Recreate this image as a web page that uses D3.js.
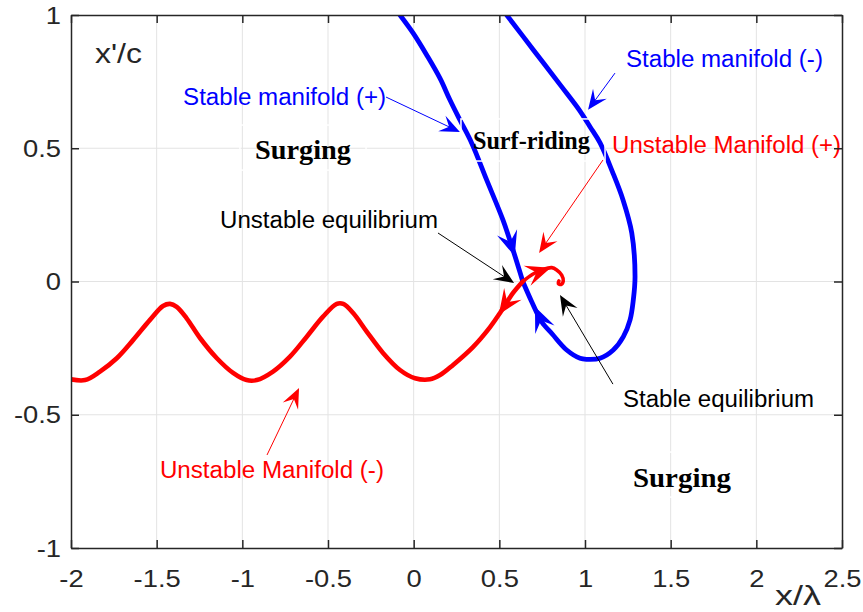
<!DOCTYPE html>
<html>
<head>
<meta charset="utf-8">
<script src="https://cdn.jsdelivr.net/npm/d3@7"></script>
<style>
  body { margin: 0; background: #fff; }
  svg { display: block; }
  .tick text { font-family: "Liberation Sans", Arial, sans-serif; font-size: 24px; fill: #262626; }
  .sans { font-family: "Liberation Sans", Arial, sans-serif; }
  .serif { font-family: "Liberation Serif", "Times New Roman", serif; font-weight: bold; }
</style>
</head>
<body>
<svg id="chart" width="863" height="612"></svg>
<script>
// Axis ticks
const xTicks = [-2, -1.5, -1, -0.5, 0, 0.5, 1, 1.5, 2, 2.5];
const xTickLabels = ["-2", "-1.5", "-1", "-0.5", "0", "0.5", "1", "1.5", "2", "2.5"];
const yTicks = [-1, -0.5, 0, 0.5, 1];
const yTickLabels = ["-1", "-0.5", "0", "0.5", "1"];

// Phase-plane trajectories, points are [x/λ, x'/c]
const unstableMinus = [
  [-2.000, -0.367], [-1.918, -0.370], [-1.831, -0.338], [-1.733, -0.288], [-1.638, -0.220],
  [-1.539, -0.144], [-1.463, -0.092], [-1.422, -0.084], [-1.383, -0.095], [-1.325, -0.138],
  [-1.247, -0.212], [-1.150, -0.287], [-1.054, -0.343], [-0.975, -0.370], [-0.916, -0.370],
  [-0.821, -0.338], [-0.722, -0.282], [-0.624, -0.207], [-0.529, -0.132], [-0.449, -0.084],
  [-0.411, -0.084], [-0.352, -0.119], [-0.274, -0.188], [-0.179, -0.268], [-0.080, -0.332],
  [0.008, -0.363], [0.095, -0.367], [0.154, -0.351], [0.230, -0.313], [0.346, -0.246],
  [0.446, -0.171], [0.504, -0.118], [0.580, -0.043], [0.637, 0.000]
];
const unstablePlus = [
  [0.637, 0.000], [0.697, 0.028], [0.755, 0.045], [0.806, 0.052], [0.835, 0.043],
  [0.864, 0.024], [0.873, 0.002], [0.860, -0.011], [0.844, -0.007], [0.848, 0.002]
];
const stablePlus = [
  [-0.080, 1.000], [-0.002, 0.931], [0.076, 0.850], [0.154, 0.762], [0.212, 0.681],
  [0.270, 0.606], [0.339, 0.519], [0.426, 0.381], [0.521, 0.231], [0.580, 0.118], [0.637, 0.000]
];
const stableMinus = [
  [0.543, 1.000], [0.700, 0.868], [0.860, 0.734], [0.965, 0.645], [1.030, 0.580],
  [1.088, 0.520], [1.163, 0.407], [1.222, 0.306], [1.273, 0.182], [1.292, 0.018],
  [1.282, -0.069], [1.263, -0.144], [1.224, -0.207], [1.165, -0.257], [1.088, -0.288],
  [1.010, -0.292], [0.971, -0.288], [0.893, -0.257], [0.810, -0.198], [0.747, -0.151],
  [0.689, -0.076], [0.637, 0.000]
];

// Flow-direction heads on the trajectories: [tip, point behind the tip]
const flowHeads = [
  { color: "#0000ff", tip: [0.590, 0.095], back: [0.545, 0.185] },
  { color: "#0000ff", tip: [0.708, -0.095], back: [0.755, -0.165] },
  { color: "#ff0000", tip: [0.497, -0.124], back: [0.575, -0.050] },
  { color: "#ff0000", tip: [0.800, 0.052], back: [0.700, 0.030] }
];

// Callout arrows (data coordinates)
const callouts = [
  { color: "#0000ff", from: [-0.161, 0.692], to: [0.270, 0.561] },
  { color: "#0000ff", from: [1.175, 0.782], to: [1.018, 0.644] },
  { color: "#ff0000", from: [1.105, 0.456], to: [0.732, 0.107] },
  { color: "#000000", from: [0.142, 0.182], to: [0.586, -0.006] },
  { color: "#000000", from: [1.163, -0.385], to: [0.854, -0.051] },
  { color: "#ff0000", from: [-0.856, -0.651], to: [-0.669, -0.400] }
];

// Text labels, anchored at the left end of the baseline
const labels = [
  { text: "x'/c", at: [-1.860, 0.820], cls: "sans", size: 27, len: 47, color: "#262626" },
  { text: "Stable manifold (+)", at: [-1.346, 0.662], cls: "sans", size: 23, len: 203, color: "#0000ff" },
  { text: "Surging", at: [-0.926, 0.460], cls: "serif", size: 28, len: 96, color: "#000000" },
  { text: "Unstable equilibrium", at: [-1.130, 0.201], cls: "sans", size: 23, len: 218, color: "#000000" },
  { text: "Surf-riding", at: [0.346, 0.497], cls: "serif", size: 24.5, len: 117, color: "#000000" },
  { text: "Stable manifold (-)", at: [1.239, 0.805], cls: "sans", size: 23, len: 197, color: "#0000ff" },
  { text: "Unstable Manifold (+)", at: [1.158, 0.482], cls: "sans", size: 23, len: 229, color: "#ff0000" },
  { text: "Stable equilibrium", at: [1.222, -0.471], cls: "sans", size: 23, len: 191, color: "#000000" },
  { text: "Surging", at: [1.280, -0.771], cls: "serif", size: 28, len: 98, color: "#000000" },
  { text: "Unstable Manifold (-)", at: [-1.481, -0.737], cls: "sans", size: 23, len: 224, color: "#ff0000" },
  { text: "x/λ", at: [2.109, -1.214], cls: "sans", size: 27, len: 46, color: "#262626" }
];

// White frames around the region labels: [x0, y0, x1, y1]
const frames = [
  [0.276, 0.610, 1.117, 0.452],
  [-1.014, 0.587, -0.278, 0.418],
  [1.204, -0.640, 1.934, -0.809]
];

const W = 863, H = 612;
const margin = { top: 15, right: 21, bottom: 64, left: 71 };
const svg = d3.select("#chart");

const x = d3.scaleLinear().domain([-2, 2.5]).range([margin.left, W - margin.right]);
const y = d3.scaleLinear().domain([-1, 1]).range([H - margin.bottom, margin.top]);

// grid
const grid = svg.append("g").attr("stroke", "#e3e3e3").attr("stroke-width", 1);
grid.selectAll(".gx").data(xTicks.slice(1, -1)).join("line")
  .attr("x1", d => x(d)).attr("x2", d => x(d))
  .attr("y1", y(-1)).attr("y2", y(1));
grid.selectAll(".gy").data(yTicks.slice(1, -1)).join("line")
  .attr("y1", d => y(d)).attr("y2", d => y(d))
  .attr("x1", x(-2)).attr("x2", x(2.5));

// trajectories
const clipId = "plotClip";
svg.append("clipPath").attr("id", clipId).append("rect")
  .attr("x", x(-2)).attr("y", y(1)).attr("width", x(2.5) - x(-2)).attr("height", y(-1) - y(1));

const smooth = d3.line().x(d => x(d[0])).y(d => y(d[1])).curve(d3.curveCatmullRom.alpha(0.5));
const curves = svg.append("g").attr("clip-path", `url(#${clipId})`)
  .attr("fill", "none").attr("stroke-linejoin", "round").attr("stroke-linecap", "round");
curves.append("path").datum(stablePlus).attr("d", smooth).attr("stroke", "#0000ff").attr("stroke-width", 4.8);
curves.append("path").datum(stableMinus).attr("d", smooth).attr("stroke", "#0000ff").attr("stroke-width", 4.8);
curves.append("path").datum(unstableMinus).attr("d", smooth).attr("stroke", "#ff0000").attr("stroke-width", 4.6);
curves.append("path").datum(unstablePlus).attr("d", smooth).attr("stroke", "#ff0000").attr("stroke-width", 3.6);

// arrowhead with swept-back wings
function headPath(tip, back, L, Wd) {
  const dx = tip[0] - back[0], dy = tip[1] - back[1];
  const n = Math.hypot(dx, dy), ux = dx / n, uy = dy / n;
  const px = -uy, py = ux;
  const bx = tip[0] - L * ux, by = tip[1] - L * uy;
  const nx = tip[0] - 0.6 * L * ux, ny = tip[1] - 0.6 * L * uy;
  return `M${tip[0]},${tip[1]}L${bx + px * Wd / 2},${by + py * Wd / 2}L${nx},${ny}L${bx - px * Wd / 2},${by - py * Wd / 2}Z`;
}
const pt = d => [x(d[0]), y(d[1])];

svg.append("g").selectAll("path").data(flowHeads).join("path")
  .attr("d", d => headPath(pt(d.tip), pt(d.back), 25, 21))
  .attr("fill", d => d.color);

// white frames of region labels
svg.append("g").attr("fill", "none").attr("stroke", "#ffffff").attr("stroke-width", 1.5)
  .selectAll("rect").data(frames).join("rect")
  .attr("x", d => x(d[0])).attr("y", d => y(d[1]))
  .attr("width", d => x(d[2]) - x(d[0])).attr("height", d => y(d[3]) - y(d[1]));

// callouts
const co = svg.append("g");
callouts.forEach(c => {
  const a = pt(c.from), b = pt(c.to);
  const dx = b[0] - a[0], dy = b[1] - a[1], n = Math.hypot(dx, dy);
  const e = [b[0] - dx / n * 10, b[1] - dy / n * 10];
  co.append("line").attr("x1", a[0]).attr("y1", a[1]).attr("x2", e[0]).attr("y2", e[1])
    .attr("stroke", c.color).attr("stroke-width", 1);
  co.append("path").attr("d", headPath(b, a, 20, 17)).attr("fill", c.color);
});

// text labels
svg.append("g").selectAll("text").data(labels).join("text")
  .attr("class", d => d.cls)
  .attr("x", d => x(d.at[0])).attr("y", d => y(d.at[1]))
  .attr("font-size", d => d.size)
  .attr("fill", d => d.color)
  .attr("textLength", d => d.len)
  .attr("lengthAdjust", "spacingAndGlyphs")
  .text(d => d.text);

// axes (box with inward ticks)
const xFmt = d => xTickLabels[xTicks.indexOf(d)];
const yFmt = d => yTickLabels[yTicks.indexOf(d)];
const stretch = 1.14;

const gB = svg.append("g").attr("transform", `translate(0,${y(-1)})`)
  .call(d3.axisBottom(x).tickValues(xTicks).tickFormat(xFmt).tickSizeInner(-8).tickSizeOuter(0).tickPadding(22));
gB.selectAll("text").attr("transform", `scale(${stretch},1)`);

const gT = svg.append("g").attr("transform", `translate(0,${y(1)})`)
  .call(d3.axisTop(x).tickValues(xTicks).tickFormat("").tickSizeInner(-8).tickSizeOuter(0));

const gL = svg.append("g").attr("transform", `translate(${x(-2)},0)`)
  .call(d3.axisLeft(y).tickValues(yTicks).tickFormat(yFmt).tickSizeInner(-8).tickSizeOuter(0).tickPadding(10));
gL.selectAll("text").attr("x", -10 / stretch).attr("dy", "0.34em").attr("transform", `scale(${stretch},1)`);

const gR = svg.append("g").attr("transform", `translate(${x(2.5)},0)`)
  .call(d3.axisRight(y).tickValues(yTicks).tickFormat("").tickSizeInner(-8).tickSizeOuter(0));

[gB, gT, gL, gR].forEach(g => {
  g.selectAll(".domain").attr("stroke", "#262626").attr("stroke-width", 1.5);
  g.selectAll(".tick line").attr("stroke", "#262626").attr("stroke-width", 1.5);
});
</script>
</body>
</html>
